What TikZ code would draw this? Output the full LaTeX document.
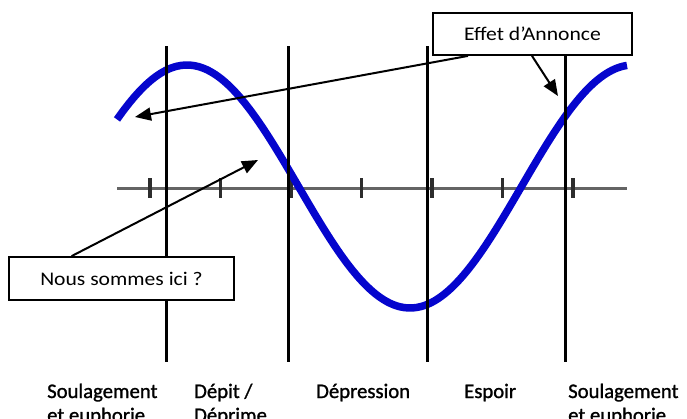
\documentclass[tikz,border=0pt]{standalone}
\usepackage{fontspec}
\setmainfont{Carlito}
\newfontfamily\calloutfont[FakeStretch=1.12]{Carlito}
\newfontfamily\labelfont[FakeBold=1.2]{Carlito}
\usetikzlibrary{arrows.meta}
\definecolor{curveblue}{RGB}{5,5,205}
\definecolor{axisgray}{RGB}{100,100,100}
\definecolor{tickgray}{RGB}{45,45,45}
\tikzset{
  phaseline/.style={line width=3pt, black},
  axisline/.style={line width=3pt, axisgray},
  tickmark/.style={line width=3.2pt, tickgray},
  wave/.style={line width=7.5pt, curveblue, line join=round},
  callout/.style={draw=black, line width=1.8pt, fill=white, font=\calloutfont\fontsize{19.3}{22}\selectfont, inner sep=0pt},
  pointer/.style={line width=2pt, -{Triangle[length=16pt,width=13pt]}},
  phaselabel/.style={anchor=base west, align=left, inner sep=0pt, font=\labelfont\fontsize{20.7}{24}\selectfont}
}
\begin{document}
\begin{tikzpicture}[x=1pt,y=-1pt]
\useasboundingbox (0,0) rectangle (687,418);
% axis and ticks
\draw[axisline] (117,188) -- (627,188);
\foreach \t in {150,220.5,291,361.5,432,502.5,573}
  \draw[tickmark] (\t,178) -- (\t,198);
% wave
\draw[wave] plot[domain=117:627, samples=120, smooth]
  (\x, {186.5-121.5*cos(0.807175*(\x-187))});
% phase lines
\foreach \x in {166.5,288,427,565.5}
  \draw[phaseline] (\x,46) -- (\x,362);
% callouts
\node[callout, minimum width=199pt, minimum height=42pt] (effet) at (532.5,34) {Effet d’Annonce};
\node[callout, minimum width=225pt, minimum height=43pt] (nous) at (121.5,278.5) {Nous sommes ici ?};
\coordinate (pLeft) at (135,117);
\coordinate (pRight) at (558,96);
\coordinate (pHere) at (258,160);
\draw[pointer] ([xshift=-64.5pt]effet.south) -- (pLeft);
\draw[pointer] ([xshift=-0.5pt]effet.south) -- (pRight);
\draw[pointer] ([xshift=63.5pt]nous.north west) -- (pHere);
% labels
\node[phaselabel] (l1) at (47,422) {Soulagement\\et euphorie};
\node[phaselabel] (l2) at (194,422) {Dépit /\\Déprime};
\node[phaselabel] (l3) at (316,398) {Dépression};
\node[phaselabel] (l4) at (464,398) {Espoir};
\node[phaselabel] (l5) at (568,422) {Soulagement\\et euphorie};
\end{tikzpicture}
\end{document}
